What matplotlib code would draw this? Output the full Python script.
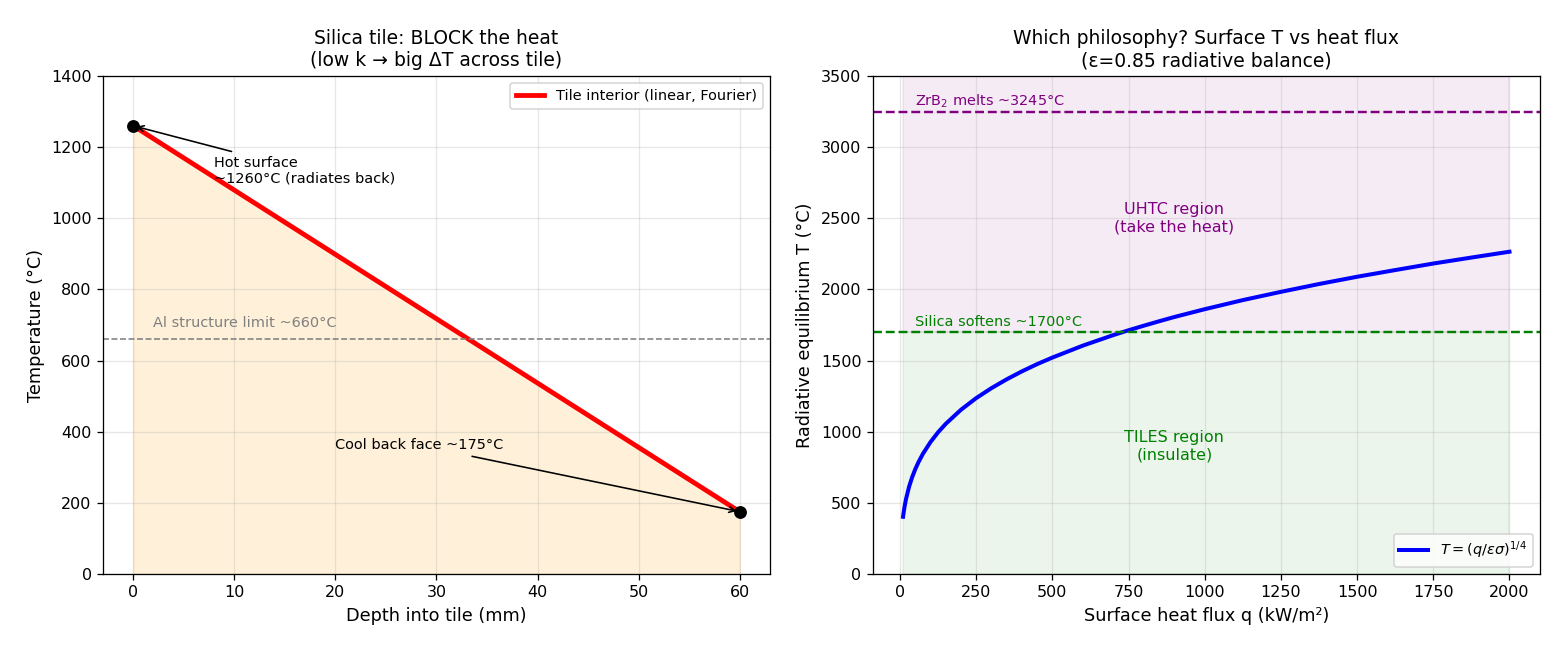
import matplotlib
matplotlib.use("Agg")
import matplotlib.pyplot as plt

# left panel: linear profile through the tile
depth_mm = [0, 60]
temp_c = [1260, 175]
al_limit = 660

# right panel: radiative equilibrium curve
q_kw = [10, 12, 15, 20, 30, 40, 50, 60, 75, 100, 125, 150, 200, 250, 300,
        350, 400, 450, 500, 600, 700, 750, 800, 850, 900, 1000, 1125, 1250,
        1375, 1500, 1625, 1750, 1875, 2000]
t_eq = [402, 433, 474, 529, 615, 681, 736, 783, 844, 927, 996, 1055, 1154,
        1236, 1306, 1368, 1424, 1475, 1521, 1605, 1679, 1713, 1745, 1776,
        1806, 1861, 1925, 1983, 2038, 2089, 2136, 2182, 2224, 2265]
silica_soft = 1700
zrb2_melt = 3245

DPI = 115.56
fig, (ax1, ax2) = plt.subplots(1, 2, figsize=(13.5, 5.625), dpi=DPI)
fig.subplots_adjust(left=0.066, right=0.987, top=0.883, bottom=0.117, wspace=0.154)

# ---- left ----
ax1.fill_between(depth_mm, 0, temp_c, color="orange", alpha=0.15)
ax1.plot(depth_mm, temp_c, color="red", lw=3, label="Tile interior (linear, Fourier)")
ax1.plot(depth_mm, temp_c, "o", color="black", ms=7)
ax1.axhline(al_limit, color="grey", ls="--", lw=1)
ax1.text(2, al_limit + 35, "Al structure limit ~660°C", color="grey", fontsize=9)
ax1.annotate("Hot surface\n~1260°C (radiates back)", xy=(depth_mm[0], temp_c[0]),
             xytext=(8, 1100), fontsize=9,
             arrowprops=dict(arrowstyle="->", color="black", lw=1))
ax1.annotate("Cool back face ~175°C", xy=(depth_mm[1], temp_c[1]),
             xytext=(20, 350), fontsize=9,
             arrowprops=dict(arrowstyle="->", color="black", lw=1))
ax1.set_ylim(0, 1400)
ax1.set_xlabel("Depth into tile (mm)", fontsize=11)
ax1.set_ylabel("Temperature (°C)", fontsize=11)
ax1.set_title("Silica tile: BLOCK the heat\n(low k → big ΔT across tile)", fontsize=11.7)
ax1.grid(alpha=0.3)
ax1.legend(loc="upper right", fontsize=9)

# ---- right ----
ax2.fill_between([q_kw[0], q_kw[-1]], 0, silica_soft, color="green", alpha=0.08)
ax2.fill_between([q_kw[0], q_kw[-1]], silica_soft, 3500, color="purple", alpha=0.08)
ax2.plot(q_kw, t_eq, color="blue", lw=2.5, label=r"$T=(q/\varepsilon\sigma)^{1/4}$")
ax2.axhline(silica_soft, color="green", ls="--", lw=1.5)
ax2.axhline(zrb2_melt, color="purple", ls="--", lw=1.5)
ax2.text(50, silica_soft + 40, "Silica softens ~1700°C", color="green", fontsize=9)
ax2.text(50, zrb2_melt + 45, "ZrB$_2$ melts ~3245°C", color="purple", fontsize=9)
ax2.text(900, 2500, "UHTC region\n(take the heat)", color="purple", fontsize=10,
         ha="center", va="center")
ax2.text(900, 900, "TILES region\n(insulate)", color="green", fontsize=10,
         ha="center", va="center")
ax2.set_ylim(0, 3500)
ax2.set_xlabel("Surface heat flux q (kW/m²)", fontsize=11)
ax2.set_ylabel("Radiative equilibrium T (°C)", fontsize=11)
ax2.set_title("Which philosophy? Surface T vs heat flux\n(ε=0.85 radiative balance)", fontsize=11.7)
ax2.grid(alpha=0.3)
ax2.legend(loc="lower right", fontsize=9)

fig.savefig("out.png", dpi=DPI)
